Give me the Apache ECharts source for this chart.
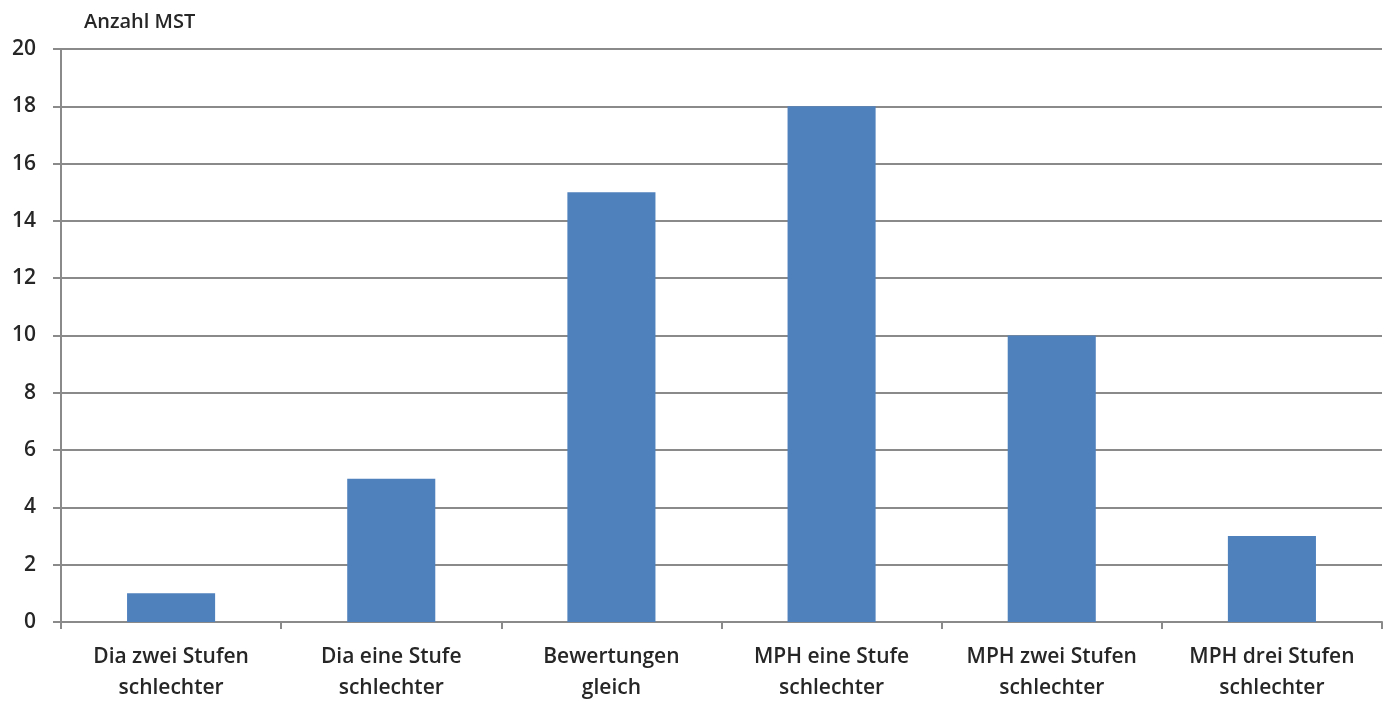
<!DOCTYPE html>
<html>
<head>
<meta charset="utf-8">
<style>
  html, body { margin: 0; padding: 0; background: #fff; }
  #chart { width: 1386px; height: 704px; }
</style>
<script src="https://cdn.jsdelivr.net/npm/echarts@6/dist/echarts.min.js"></script>
</head>
<body>
<div id="chart"></div>
<script>
// Bewertungsvergleich Dia vs. MPH: Anzahl der MST je Kategorie
const categories = [
  'Dia zwei Stufen\nschlechter',
  'Dia eine Stufe\nschlechter',
  'Bewertungen\ngleich',
  'MPH eine Stufe\nschlechter',
  'MPH zwei Stufen\nschlechter',
  'MPH drei Stufen\nschlechter'
];
const counts = [1, 5, 15, 18, 10, 3];
const yTicks = { min: 0, max: 20, interval: 2 };
const yTitle = 'Anzahl MST';

const font = '"Open Sans", "Noto Sans", sans-serif';
const gridColor = '#8a8a8a';
const textColor = '#262626';

const chart = echarts.init(document.getElementById('chart'));
chart.setOption({
  animation: false,
  title: {
    text: yTitle,
    left: 79,
    top: 7,
    textStyle: { fontFamily: font, fontSize: 20, fontWeight: 600, color: textColor }
  },
  grid: { left: 61, right: 4, top: 49, bottom: 82, containLabel: false },
  xAxis: {
    type: 'category',
    data: categories,
    axisLine: { lineStyle: { color: gridColor, width: 2 } },
    axisTick: { show: true, length: 7, lineStyle: { color: gridColor, width: 2 } },
    axisLabel: {
      fontFamily: font, fontSize: 21, fontWeight: 600, color: textColor,
      lineHeight: 31, margin: 20, interval: 0
    }
  },
  yAxis: {
    type: 'value',
    min: yTicks.min, max: yTicks.max, interval: yTicks.interval,
    axisLine: { show: true, lineStyle: { color: gridColor, width: 2 } },
    axisTick: { show: true, length: 8, lineStyle: { color: gridColor, width: 2 } },
    splitLine: { show: true, lineStyle: { color: gridColor, width: 2 } },
    axisLabel: { fontFamily: font, fontSize: 21, fontWeight: 600, color: textColor, margin: 25 }
  },
  series: [{
    type: 'bar',
    data: counts,
    barWidth: '40%',
    itemStyle: { color: '#4f81bd' }
  }]
});
</script>
</body>
</html>
